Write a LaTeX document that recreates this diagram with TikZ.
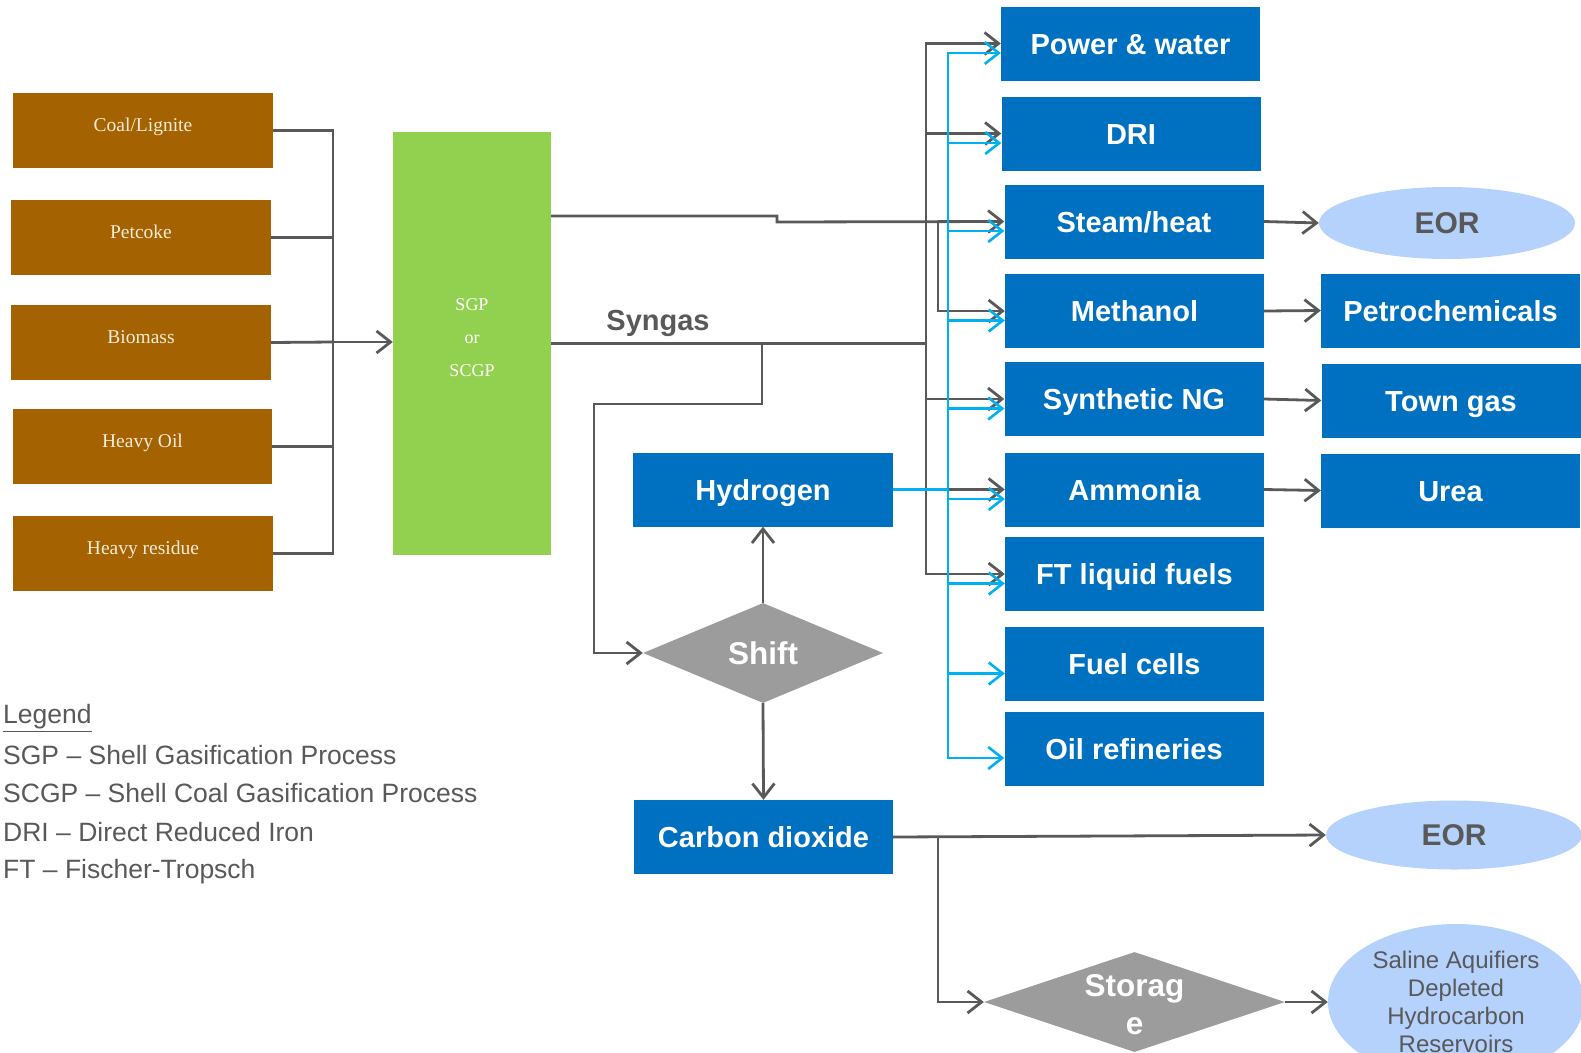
\documentclass[tikz,border=0pt]{standalone}
\usepackage{fontspec}
\setmainfont{Liberation Sans}
\newfontfamily\serf{Liberation Serif}
\usetikzlibrary{shapes.geometric,arrows.meta,calc}
\definecolor{dkc}{RGB}{89,89,89}
\definecolor{cyc}{RGB}{0,176,240}
\definecolor{bluc}{RGB}{0,112,192}
\definecolor{brnc}{RGB}{165,98,0}
\definecolor{grnc}{RGB}{146,208,80}
\definecolor{ltbc}{RGB}{180,210,252}
\definecolor{gryc}{RGB}{156,156,156}
\definecolor{crmc}{RGB}{244,236,216}
\begin{document}
\begin{tikzpicture}[x=1pt,y=-1pt,
  brownbox/.style={fill=brnc,minimum width=260pt,minimum height=75pt,inner sep=0pt,
    text height=13pt,text depth=12pt,
    text=crmc,font=\serf\fontsize{19.5}{23}\selectfont},
  bluebox/.style={fill=bluc,minimum width=259pt,minimum height=74pt,inner sep=0pt,
    text height=21pt,text depth=0pt,
    text=white,font=\bfseries\fontsize{29}{34}\selectfont},
  ellnode/.style={ellipse,fill=ltbc,inner sep=0pt,text=dkc},
  dia/.style={diamond,fill=gryc,inner sep=0pt},
  dialab/.style={text=white,font=\bfseries\fontsize{31.5}{38}\selectfont,align=center,inner sep=0pt},
  dkline/.style={draw=dkc,line width=2.8pt},
  blline/.style={draw=cyc,line width=2.6pt},
  arr/.style={-{Straight Barb[length=14pt,width=22pt]}},
  legtext/.style={anchor=west,inner sep=0pt,text=dkc,font=\fontsize{26.5}{30}\selectfont}
]
\path[use as bounding box,clip] (0,0) rectangle (1581,1052);

% inputs
\node[brownbox] (coal) at (143,130.5) {Coal/Lignite};
\node[brownbox] (pet) at (141,237.5) {Petcoke};
\node[brownbox] (bio) at (141,342.5) {Biomass};
\node[brownbox,minimum width=259pt] (oil) at (142.5,446.5) {Heavy Oil};
\node[brownbox] (res) at (143,553.5) {Heavy residue};

% gasifier
\node[fill=grnc,minimum width=158pt,minimum height=423pt,inner sep=0pt,
  label={[text=white,align=center,inner sep=0pt,yshift=6pt,font=\serf\fontsize{18}{33}\selectfont]center:SGP\\or\\SCGP}] (gas) at (472,343.5) {};

% product boxes
\node[bluebox] (power) at (1130.5,43.5) {Power \& water};
\node[bluebox] (dri) at (1131,133.5) {DRI};
\node[bluebox] (steam) at (1134,221.5) {Steam/heat};
\node[bluebox] (meth) at (1134.5,311) {Methanol};
\node[bluebox] (syn) at (1134,399) {Synthetic NG};
\node[bluebox] (amm) at (1134.5,489.5) {Ammonia};
\node[bluebox] (ft) at (1134.5,574) {FT liquid fuels};
\node[bluebox] (fuel) at (1134.5,664) {Fuel cells};
\node[bluebox] (oilr) at (1134,748.5) {Oil refineries};

\node[ellnode,minimum width=256pt,minimum height=72pt,text height=21.5pt,text depth=0pt,font=\bfseries\fontsize{30}{34}\selectfont] (eor1) at (1447,223) {EOR};
\node[bluebox] (petro) at (1450.5,310.5) {Petrochemicals};
\node[bluebox] (town) at (1451,400.5) {Town gas};
\node[bluebox] (urea) at (1450.5,490.5) {Urea};

\node[bluebox,minimum width=260pt] (hyd) at (763,489.5) {Hydrogen};
\node[dia,minimum width=240pt,minimum height=100pt,
  label={[dialab]center:Shift}] (shft) at (763,653) {};
\node[bluebox,minimum width=259pt] (co2) at (763.5,837) {Carbon dioxide};
\node[ellnode,minimum width=256pt,minimum height=69pt,text height=21.5pt,text depth=0pt,font=\bfseries\fontsize{30}{34}\selectfont] (eor2) at (1454,835) {EOR};
\node[dia,minimum width=301pt,minimum height=100pt,
  label={[dialab,yshift=-3pt]center:Storag\\e}] (stor) at (1134.5,1002) {};
\node[ellnode,minimum width=256pt,minimum height=156pt,align=center,
  font=\fontsize{24}{28}\selectfont] (sal) at (1456,1002) {Saline Aquifiers\\Depleted\\Hydrocarbon\\Reservoirs};

% labels
\node[text=dkc,font=\bfseries\fontsize{29}{34}\selectfont] (sglab) at (658,323) {Syngas};
\node[legtext] (lg0) at (3,718) {\underline{Legend}};
\node[legtext] (lg1) at (3,755) {SGP – Shell Gasification Process};
\node[legtext] (lg2) at (3,793) {SCGP – Shell Coal Gasification Process};
\node[legtext] (lg3) at (3,832) {DRI – Direct Reduced Iron};
\node[legtext] (lg4) at (3,872) {FT – Fischer-Tropsch};

% input bus
\coordinate (bm) at (333,342);
\draw[dkline] (coal.east) -| (bm);
\draw[dkline] (pet.east) -| (bm);
\draw[dkline] (bio.east) -- (bm);
\draw[dkline] (oil.east) -| (bm);
\draw[dkline] (res.east) -| (bm);
\draw[dkline,arr] (bm) -- (bm -| gas.west);

% syngas lines
\coordinate (g1) at (551,216);
\draw[dkline,arr] (g1) -- (777,216) -- (777,222) -- (steam.west);
\coordinate (mj) at (938,222);
\draw[dkline,arr] (mj) |- (meth.west);
\coordinate (db) at (926,343.5);
\draw[dkline] (gas.east) -- (db);
\foreach \t in {power,dri,syn,amm,ft} \draw[dkline,arr] (db) |- (\t.west);
\coordinate (sj) at (762,343.5);
\draw[dkline,arr] (sj) -- (762,404) -- (594,404) |- (shft.west);

% shift
\draw[dkline,arr] (shft.north) -- (hyd.south);
\draw[dkline,arr] (shft.south) -- (co2.north);

% hydrogen bus
\coordinate (hb) at (948,489.5);
\draw[blline] (hyd.east) -- (hb);
\foreach \t in {power,dri,steam,meth,syn,amm,ft,fuel,oilr} \draw[blline,arr] (hb) |- ($(\t.west)+(0,9.5)$);

% second stage
\draw[dkline,arr] (steam.east) -- (eor1.west);
\draw[dkline,arr] (meth.east) -- (petro.west);
\draw[dkline,arr] (syn.east) -- (town.west);
\draw[dkline,arr] (amm.east) -- (urea.west);

% CO2
\draw[dkline,arr] (co2.east) -- (eor2.west);
\coordinate (cj) at (938,837);
\draw[dkline,arr] (cj) |- (stor.west);
\draw[dkline,arr] (stor.east) -- (sal.west);
\end{tikzpicture}
\end{document}
